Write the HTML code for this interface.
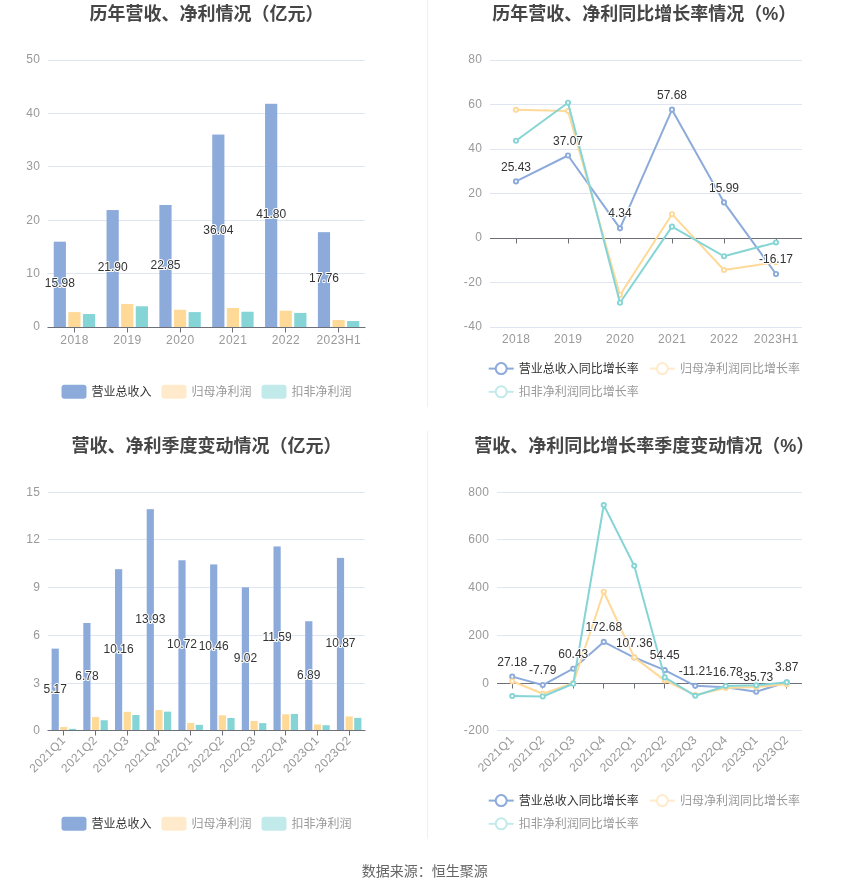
<!DOCTYPE html>
<html lang="zh"><head><meta charset="utf-8"><title>chart</title>
<style>
html,body{margin:0;padding:0;background:#fff;}
svg{display:block;font-family:"Liberation Sans","Noto Sans CJK SC",sans-serif;will-change:transform;}
.h{paint-order:stroke;stroke:#fff;stroke-width:2px;stroke-linejoin:round;}
.c{font-family:"Liberation Sans","Noto Sans CJK SC",sans-serif;}
</style></head><body>
<svg width="850" height="891" viewBox="0 0 850 891">
<rect width="850" height="891" fill="#fff"/>
<path d="M427.5 0V407" stroke="#F0F0F0" stroke-width="1"/>
<path d="M427.5 431V838.4" stroke="#F0F0F0" stroke-width="1"/>
<text class="c" x="89.5" y="19.84" font-size="18" font-weight="bold" fill="#464646">历年营收、净利情况（亿元）</text>
<text x="40.4" y="330.42" font-size="12" fill="#999" text-anchor="end" letter-spacing="0.4">0</text>
<path d="M48 273.5H365" stroke="#E0E6F1" stroke-width="1"/>
<text x="40.4" y="277.02" font-size="12" fill="#999" text-anchor="end" letter-spacing="0.4">10</text>
<path d="M48 220.5H365" stroke="#E0E6F1" stroke-width="1"/>
<text x="40.4" y="223.62" font-size="12" fill="#999" text-anchor="end" letter-spacing="0.4">20</text>
<path d="M48 166.5H365" stroke="#E0E6F1" stroke-width="1"/>
<text x="40.4" y="170.22" font-size="12" fill="#999" text-anchor="end" letter-spacing="0.4">30</text>
<path d="M48 113.5H365" stroke="#E0E6F1" stroke-width="1"/>
<text x="40.4" y="116.82" font-size="12" fill="#999" text-anchor="end" letter-spacing="0.4">40</text>
<path d="M48 60.5H365" stroke="#E0E6F1" stroke-width="1"/>
<text x="40.4" y="63.42" font-size="12" fill="#999" text-anchor="end" letter-spacing="0.4">50</text>
<rect x="53.72" y="241.67" width="12.2" height="85.33" fill="#8CABDB"/>
<rect x="68.32" y="312.1" width="12.2" height="14.9" fill="#FED998"/>
<rect x="82.92" y="314.02" width="12.2" height="12.98" fill="#86D5D6"/>
<rect x="106.55" y="210.05" width="12.2" height="116.95" fill="#8CABDB"/>
<rect x="121.15" y="303.93" width="12.2" height="23.07" fill="#FED998"/>
<rect x="135.75" y="306.28" width="12.2" height="20.72" fill="#86D5D6"/>
<rect x="159.38" y="204.98" width="12.2" height="122.02" fill="#8CABDB"/>
<rect x="173.98" y="309.75" width="12.2" height="17.25" fill="#FED998"/>
<rect x="188.58" y="312.1" width="12.2" height="14.9" fill="#86D5D6"/>
<rect x="212.22" y="134.55" width="12.2" height="192.45" fill="#8CABDB"/>
<rect x="226.82" y="307.99" width="12.2" height="19.01" fill="#FED998"/>
<rect x="241.42" y="311.73" width="12.2" height="15.27" fill="#86D5D6"/>
<rect x="265.05" y="103.79" width="12.2" height="223.21" fill="#8CABDB"/>
<rect x="279.65" y="310.71" width="12.2" height="16.29" fill="#FED998"/>
<rect x="294.25" y="312.9" width="12.2" height="14.1" fill="#86D5D6"/>
<rect x="317.88" y="232.16" width="12.2" height="94.84" fill="#8CABDB"/>
<rect x="332.48" y="320.06" width="12.2" height="6.94" fill="#FED998"/>
<rect x="347.08" y="321.02" width="12.2" height="5.98" fill="#86D5D6"/>
<path d="M47.5 327.5H365.5" stroke="#6E7079" stroke-width="1"/>
<path d="M74.5 327.5V332.5" stroke="#6E7079" stroke-width="1"/>
<path d="M127.5 327.5V332.5" stroke="#6E7079" stroke-width="1"/>
<path d="M180.5 327.5V332.5" stroke="#6E7079" stroke-width="1"/>
<path d="M232.5 327.5V332.5" stroke="#6E7079" stroke-width="1"/>
<path d="M285.5 327.5V332.5" stroke="#6E7079" stroke-width="1"/>
<path d="M338.5 327.5V332.5" stroke="#6E7079" stroke-width="1"/>
<text x="74.62" y="343.92" font-size="12" fill="#999" text-anchor="middle" letter-spacing="0.45">2018</text>
<text x="127.45" y="343.92" font-size="12" fill="#999" text-anchor="middle" letter-spacing="0.45">2019</text>
<text x="180.28" y="343.92" font-size="12" fill="#999" text-anchor="middle" letter-spacing="0.45">2020</text>
<text x="233.12" y="343.92" font-size="12" fill="#999" text-anchor="middle" letter-spacing="0.45">2021</text>
<text x="285.95" y="343.92" font-size="12" fill="#999" text-anchor="middle" letter-spacing="0.45">2022</text>
<text x="338.78" y="343.92" font-size="12" fill="#999" text-anchor="middle" letter-spacing="0.45">2023H1</text>
<text x="59.82" y="287.15" font-size="12" fill="#333" text-anchor="middle" class="h">15.98</text>
<text x="112.65" y="271.35" font-size="12" fill="#333" text-anchor="middle" class="h">21.90</text>
<text x="165.48" y="268.81" font-size="12" fill="#333" text-anchor="middle" class="h">22.85</text>
<text x="218.32" y="233.59" font-size="12" fill="#333" text-anchor="middle" class="h">36.04</text>
<text x="271.15" y="218.21" font-size="12" fill="#333" text-anchor="middle" class="h">41.80</text>
<text x="323.98" y="282.4" font-size="12" fill="#333" text-anchor="middle" class="h">17.76</text>
<rect x="61.5" y="384.7" width="25" height="14" rx="3" fill="#8CABDB"/>
<text class="c" x="91.5" y="395.76" font-size="12" fill="#333">营业总收入</text>
<rect x="161.5" y="384.7" width="25" height="14" rx="3" fill="#FFEBCB"/>
<text class="c" x="191.5" y="395.76" font-size="12" fill="#999">归母净利润</text>
<rect x="261.5" y="384.7" width="25" height="14" rx="3" fill="#C2EAEA"/>
<text class="c" x="291.5" y="395.76" font-size="12" fill="#999">扣非净利润</text>
<text class="c" x="492.35" y="19.84" font-size="18" font-weight="bold" fill="#464646">历年营收、净利同比增长率情况（%）</text>
<path d="M490 327.5H802" stroke="#E0E6F1" stroke-width="1"/>
<text x="482.4" y="330.42" font-size="12" fill="#999" text-anchor="end" letter-spacing="0.4">-40</text>
<path d="M490 282.5H802" stroke="#E0E6F1" stroke-width="1"/>
<text x="482.4" y="285.92" font-size="12" fill="#999" text-anchor="end" letter-spacing="0.4">-20</text>
<text x="482.4" y="241.42" font-size="12" fill="#999" text-anchor="end" letter-spacing="0.4">0</text>
<path d="M490 193.5H802" stroke="#E0E6F1" stroke-width="1"/>
<text x="482.4" y="196.92" font-size="12" fill="#999" text-anchor="end" letter-spacing="0.4">20</text>
<path d="M490 149.5H802" stroke="#E0E6F1" stroke-width="1"/>
<text x="482.4" y="152.42" font-size="12" fill="#999" text-anchor="end" letter-spacing="0.4">40</text>
<path d="M490 104.5H802" stroke="#E0E6F1" stroke-width="1"/>
<text x="482.4" y="107.92" font-size="12" fill="#999" text-anchor="end" letter-spacing="0.4">60</text>
<path d="M490 60.5H802" stroke="#E0E6F1" stroke-width="1"/>
<text x="482.4" y="63.42" font-size="12" fill="#999" text-anchor="end" letter-spacing="0.4">80</text>
<path d="M490 238.5H802" stroke="#6E7079" stroke-width="1"/>
<path d="M516.5 238.5V243.5" stroke="#6E7079" stroke-width="1"/>
<path d="M568.5 238.5V243.5" stroke="#6E7079" stroke-width="1"/>
<path d="M620.5 238.5V243.5" stroke="#6E7079" stroke-width="1"/>
<path d="M672.5 238.5V243.5" stroke="#6E7079" stroke-width="1"/>
<path d="M724.5 238.5V243.5" stroke="#6E7079" stroke-width="1"/>
<path d="M776.5 238.5V243.5" stroke="#6E7079" stroke-width="1"/>
<text x="516.2" y="343.42" font-size="12" fill="#999" text-anchor="middle" letter-spacing="0.45">2018</text>
<text x="568.2" y="343.42" font-size="12" fill="#999" text-anchor="middle" letter-spacing="0.45">2019</text>
<text x="620.2" y="343.42" font-size="12" fill="#999" text-anchor="middle" letter-spacing="0.45">2020</text>
<text x="672.2" y="343.42" font-size="12" fill="#999" text-anchor="middle" letter-spacing="0.45">2021</text>
<text x="724.2" y="343.42" font-size="12" fill="#999" text-anchor="middle" letter-spacing="0.45">2022</text>
<text x="776.2" y="343.42" font-size="12" fill="#999" text-anchor="middle" letter-spacing="0.45">2023H1</text>
<path d="M516 181.42L568 155.52L620 228.34L672 109.66L724 202.42L776 273.98" fill="none" stroke="#8CABDB" stroke-width="2" stroke-linejoin="bevel"/>
<circle cx="516" cy="181.42" r="2.1" fill="#fff" stroke="#8CABDB" stroke-width="1.9"/>
<circle cx="568" cy="155.52" r="2.1" fill="#fff" stroke="#8CABDB" stroke-width="1.9"/>
<circle cx="620" cy="228.34" r="2.1" fill="#fff" stroke="#8CABDB" stroke-width="1.9"/>
<circle cx="672" cy="109.66" r="2.1" fill="#fff" stroke="#8CABDB" stroke-width="1.9"/>
<circle cx="724" cy="202.42" r="2.1" fill="#fff" stroke="#8CABDB" stroke-width="1.9"/>
<circle cx="776" cy="273.98" r="2.1" fill="#fff" stroke="#8CABDB" stroke-width="1.9"/>
<path d="M516 109.84L568 110.95L620 294.96L672 214.19L724 270.04L776 262.25" fill="none" stroke="#FED998" stroke-width="2" stroke-linejoin="bevel"/>
<circle cx="516" cy="109.84" r="2.1" fill="#fff" stroke="#FED998" stroke-width="1.9"/>
<circle cx="568" cy="110.95" r="2.1" fill="#fff" stroke="#FED998" stroke-width="1.9"/>
<circle cx="620" cy="294.96" r="2.1" fill="#fff" stroke="#FED998" stroke-width="1.9"/>
<circle cx="672" cy="214.19" r="2.1" fill="#fff" stroke="#FED998" stroke-width="1.9"/>
<circle cx="724" cy="270.04" r="2.1" fill="#fff" stroke="#FED998" stroke-width="1.9"/>
<circle cx="776" cy="262.25" r="2.1" fill="#fff" stroke="#FED998" stroke-width="1.9"/>
<path d="M516 140.77L568 102.72L620 302.75L672 226.65L724 256.25L776 242.45" fill="none" stroke="#86D5D6" stroke-width="2" stroke-linejoin="bevel"/>
<circle cx="516" cy="140.77" r="2.1" fill="#fff" stroke="#86D5D6" stroke-width="1.9"/>
<circle cx="568" cy="102.72" r="2.1" fill="#fff" stroke="#86D5D6" stroke-width="1.9"/>
<circle cx="620" cy="302.75" r="2.1" fill="#fff" stroke="#86D5D6" stroke-width="1.9"/>
<circle cx="672" cy="226.65" r="2.1" fill="#fff" stroke="#86D5D6" stroke-width="1.9"/>
<circle cx="724" cy="256.25" r="2.1" fill="#fff" stroke="#86D5D6" stroke-width="1.9"/>
<circle cx="776" cy="242.45" r="2.1" fill="#fff" stroke="#86D5D6" stroke-width="1.9"/>
<text x="516" y="170.54" font-size="12" fill="#333" text-anchor="middle" class="h">25.43</text>
<text x="568" y="144.64" font-size="12" fill="#333" text-anchor="middle" class="h">37.07</text>
<text x="620" y="217.46" font-size="12" fill="#333" text-anchor="middle" class="h">4.34</text>
<text x="672" y="98.78" font-size="12" fill="#333" text-anchor="middle" class="h">57.68</text>
<text x="724" y="191.54" font-size="12" fill="#333" text-anchor="middle" class="h">15.99</text>
<text x="776" y="263.1" font-size="12" fill="#333" text-anchor="middle" class="h">-16.17</text>
<path d="M488.7 368.6H513.7" stroke="#8CABDB" stroke-width="2"/>
<circle cx="501.2" cy="368.6" r="5.5" fill="#fff" stroke="#8CABDB" stroke-width="2"/>
<text class="c" x="518.7" y="372.66" font-size="12" fill="#333">营业总收入同比增长率</text>
<path d="M649.9 368.6H674.9" stroke="#FFEBCB" stroke-width="2"/>
<circle cx="662.4" cy="368.6" r="5.5" fill="#fff" stroke="#FFEBCB" stroke-width="2"/>
<text class="c" x="679.9" y="372.66" font-size="12" fill="#999">归母净利润同比增长率</text>
<path d="M488.7 391.8H513.7" stroke="#C2EAEA" stroke-width="2"/>
<circle cx="501.2" cy="391.8" r="5.5" fill="#fff" stroke="#C2EAEA" stroke-width="2"/>
<text class="c" x="518.7" y="395.86" font-size="12" fill="#999">扣非净利润同比增长率</text>
<text class="c" x="71.5" y="451.84" font-size="18" font-weight="bold" fill="#464646">营收、净利季度变动情况（亿元）</text>
<text x="40.4" y="734.32" font-size="12" fill="#999" text-anchor="end" letter-spacing="0.4">0</text>
<path d="M48 683.5H365" stroke="#E0E6F1" stroke-width="1"/>
<text x="40.4" y="686.57" font-size="12" fill="#999" text-anchor="end" letter-spacing="0.4">3</text>
<path d="M48 635.5H365" stroke="#E0E6F1" stroke-width="1"/>
<text x="40.4" y="638.82" font-size="12" fill="#999" text-anchor="end" letter-spacing="0.4">6</text>
<path d="M48 587.5H365" stroke="#E0E6F1" stroke-width="1"/>
<text x="40.4" y="591.07" font-size="12" fill="#999" text-anchor="end" letter-spacing="0.4">9</text>
<path d="M48 539.5H365" stroke="#E0E6F1" stroke-width="1"/>
<text x="40.4" y="543.32" font-size="12" fill="#999" text-anchor="end" letter-spacing="0.4">12</text>
<path d="M48 492.5H365" stroke="#E0E6F1" stroke-width="1"/>
<text x="40.4" y="495.57" font-size="12" fill="#999" text-anchor="end" letter-spacing="0.4">15</text>
<rect x="51.6" y="648.61" width="7.2" height="82.29" fill="#8CABDB"/>
<rect x="60.25" y="727" width="7.2" height="3.9" fill="#FED998"/>
<rect x="68.9" y="728.83" width="7.2" height="2.07" fill="#86D5D6"/>
<rect x="83.3" y="622.99" width="7.2" height="107.92" fill="#8CABDB"/>
<rect x="91.95" y="717.05" width="7.2" height="13.85" fill="#FED998"/>
<rect x="100.6" y="720.24" width="7.2" height="10.66" fill="#86D5D6"/>
<rect x="115" y="569.19" width="7.2" height="161.71" fill="#8CABDB"/>
<rect x="123.65" y="711.8" width="7.2" height="19.1" fill="#FED998"/>
<rect x="132.3" y="714.98" width="7.2" height="15.92" fill="#86D5D6"/>
<rect x="146.7" y="509.18" width="7.2" height="221.72" fill="#8CABDB"/>
<rect x="155.35" y="710.05" width="7.2" height="20.85" fill="#FED998"/>
<rect x="164" y="711.64" width="7.2" height="19.26" fill="#86D5D6"/>
<rect x="178.4" y="560.27" width="7.2" height="170.63" fill="#8CABDB"/>
<rect x="187.05" y="722.94" width="7.2" height="7.96" fill="#FED998"/>
<rect x="195.7" y="724.85" width="7.2" height="6.05" fill="#86D5D6"/>
<rect x="210.1" y="564.41" width="7.2" height="166.49" fill="#8CABDB"/>
<rect x="218.75" y="715.3" width="7.2" height="15.6" fill="#FED998"/>
<rect x="227.4" y="718.01" width="7.2" height="12.89" fill="#86D5D6"/>
<rect x="241.8" y="587.33" width="7.2" height="143.57" fill="#8CABDB"/>
<rect x="250.45" y="720.95" width="7.2" height="9.95" fill="#FED998"/>
<rect x="259.1" y="723.1" width="7.2" height="7.8" fill="#86D5D6"/>
<rect x="273.5" y="546.43" width="7.2" height="184.47" fill="#8CABDB"/>
<rect x="282.15" y="714.35" width="7.2" height="16.55" fill="#FED998"/>
<rect x="290.8" y="713.95" width="7.2" height="16.95" fill="#86D5D6"/>
<rect x="305.2" y="621.23" width="7.2" height="109.67" fill="#8CABDB"/>
<rect x="313.85" y="724.45" width="7.2" height="6.45" fill="#FED998"/>
<rect x="322.5" y="725.25" width="7.2" height="5.65" fill="#86D5D6"/>
<rect x="336.9" y="557.89" width="7.2" height="173.01" fill="#8CABDB"/>
<rect x="345.55" y="716.48" width="7.2" height="14.42" fill="#FED998"/>
<rect x="354.2" y="717.85" width="7.2" height="13.05" fill="#86D5D6"/>
<path d="M47.5 730.5H365.5" stroke="#6E7079" stroke-width="1"/>
<path d="M63.5 730.5V735.5" stroke="#6E7079" stroke-width="1"/>
<path d="M95.5 730.5V735.5" stroke="#6E7079" stroke-width="1"/>
<path d="M127.5 730.5V735.5" stroke="#6E7079" stroke-width="1"/>
<path d="M158.5 730.5V735.5" stroke="#6E7079" stroke-width="1"/>
<path d="M190.5 730.5V735.5" stroke="#6E7079" stroke-width="1"/>
<path d="M222.5 730.5V735.5" stroke="#6E7079" stroke-width="1"/>
<path d="M254.5 730.5V735.5" stroke="#6E7079" stroke-width="1"/>
<path d="M285.5 730.5V735.5" stroke="#6E7079" stroke-width="1"/>
<path d="M317.5 730.5V735.5" stroke="#6E7079" stroke-width="1"/>
<path d="M349.5 730.5V735.5" stroke="#6E7079" stroke-width="1"/>
<text transform="translate(63.35 738.7) rotate(-45)" x="0.5" y="3.8" font-size="12" fill="#999" text-anchor="end" letter-spacing="0.45">2021Q1</text>
<text transform="translate(95.05 738.7) rotate(-45)" x="0.5" y="3.8" font-size="12" fill="#999" text-anchor="end" letter-spacing="0.45">2021Q2</text>
<text transform="translate(126.75 738.7) rotate(-45)" x="0.5" y="3.8" font-size="12" fill="#999" text-anchor="end" letter-spacing="0.45">2021Q3</text>
<text transform="translate(158.45 738.7) rotate(-45)" x="0.5" y="3.8" font-size="12" fill="#999" text-anchor="end" letter-spacing="0.45">2021Q4</text>
<text transform="translate(190.15 738.7) rotate(-45)" x="0.5" y="3.8" font-size="12" fill="#999" text-anchor="end" letter-spacing="0.45">2022Q1</text>
<text transform="translate(221.85 738.7) rotate(-45)" x="0.5" y="3.8" font-size="12" fill="#999" text-anchor="end" letter-spacing="0.45">2022Q2</text>
<text transform="translate(253.55 738.7) rotate(-45)" x="0.5" y="3.8" font-size="12" fill="#999" text-anchor="end" letter-spacing="0.45">2022Q3</text>
<text transform="translate(285.25 738.7) rotate(-45)" x="0.5" y="3.8" font-size="12" fill="#999" text-anchor="end" letter-spacing="0.45">2022Q4</text>
<text transform="translate(316.95 738.7) rotate(-45)" x="0.5" y="3.8" font-size="12" fill="#999" text-anchor="end" letter-spacing="0.45">2023Q1</text>
<text transform="translate(348.65 738.7) rotate(-45)" x="0.5" y="3.8" font-size="12" fill="#999" text-anchor="end" letter-spacing="0.45">2023Q2</text>
<text x="55.2" y="692.58" font-size="12" fill="#333" text-anchor="middle" class="h">5.17</text>
<text x="86.9" y="679.76" font-size="12" fill="#333" text-anchor="middle" class="h">6.78</text>
<text x="118.6" y="652.86" font-size="12" fill="#333" text-anchor="middle" class="h">10.16</text>
<text x="150.3" y="622.86" font-size="12" fill="#333" text-anchor="middle" class="h">13.93</text>
<text x="182" y="648.41" font-size="12" fill="#333" text-anchor="middle" class="h">10.72</text>
<text x="213.7" y="650.48" font-size="12" fill="#333" text-anchor="middle" class="h">10.46</text>
<text x="245.4" y="661.94" font-size="12" fill="#333" text-anchor="middle" class="h">9.02</text>
<text x="277.1" y="641.48" font-size="12" fill="#333" text-anchor="middle" class="h">11.59</text>
<text x="308.8" y="678.89" font-size="12" fill="#333" text-anchor="middle" class="h">6.89</text>
<text x="340.5" y="647.21" font-size="12" fill="#333" text-anchor="middle" class="h">10.87</text>
<rect x="61.5" y="816.7" width="25" height="14" rx="3" fill="#8CABDB"/>
<text class="c" x="91.5" y="827.76" font-size="12" fill="#333">营业总收入</text>
<rect x="161.5" y="816.7" width="25" height="14" rx="3" fill="#FFEBCB"/>
<text class="c" x="191.5" y="827.76" font-size="12" fill="#999">归母净利润</text>
<rect x="261.5" y="816.7" width="25" height="14" rx="3" fill="#C2EAEA"/>
<text class="c" x="291.5" y="827.76" font-size="12" fill="#999">扣非净利润</text>
<text class="c" x="474.35" y="451.84" font-size="18" font-weight="bold" fill="#464646">营收、净利同比增长率季度变动情况（%）</text>
<path d="M497 730.5H802" stroke="#E0E6F1" stroke-width="1"/>
<text x="489.4" y="734.32" font-size="12" fill="#999" text-anchor="end" letter-spacing="0.4">-200</text>
<text x="489.4" y="686.57" font-size="12" fill="#999" text-anchor="end" letter-spacing="0.4">0</text>
<path d="M497 635.5H802" stroke="#E0E6F1" stroke-width="1"/>
<text x="489.4" y="638.82" font-size="12" fill="#999" text-anchor="end" letter-spacing="0.4">200</text>
<path d="M497 587.5H802" stroke="#E0E6F1" stroke-width="1"/>
<text x="489.4" y="591.07" font-size="12" fill="#999" text-anchor="end" letter-spacing="0.4">400</text>
<path d="M497 539.5H802" stroke="#E0E6F1" stroke-width="1"/>
<text x="489.4" y="543.32" font-size="12" fill="#999" text-anchor="end" letter-spacing="0.4">600</text>
<path d="M497 492.5H802" stroke="#E0E6F1" stroke-width="1"/>
<text x="489.4" y="495.57" font-size="12" fill="#999" text-anchor="end" letter-spacing="0.4">800</text>
<path d="M497 683.5H802" stroke="#6E7079" stroke-width="1"/>
<path d="M512.5 683.5V688.5" stroke="#6E7079" stroke-width="1"/>
<path d="M542.5 683.5V688.5" stroke="#6E7079" stroke-width="1"/>
<path d="M573.5 683.5V688.5" stroke="#6E7079" stroke-width="1"/>
<path d="M603.5 683.5V688.5" stroke="#6E7079" stroke-width="1"/>
<path d="M634.5 683.5V688.5" stroke="#6E7079" stroke-width="1"/>
<path d="M664.5 683.5V688.5" stroke="#6E7079" stroke-width="1"/>
<path d="M695.5 683.5V688.5" stroke="#6E7079" stroke-width="1"/>
<path d="M725.5 683.5V688.5" stroke="#6E7079" stroke-width="1"/>
<path d="M756.5 683.5V688.5" stroke="#6E7079" stroke-width="1"/>
<path d="M786.5 683.5V688.5" stroke="#6E7079" stroke-width="1"/>
<text transform="translate(511.75 738) rotate(-45)" x="0.5" y="3.8" font-size="12" fill="#999" text-anchor="end" letter-spacing="0.45">2021Q1</text>
<text transform="translate(542.25 738) rotate(-45)" x="0.5" y="3.8" font-size="12" fill="#999" text-anchor="end" letter-spacing="0.45">2021Q2</text>
<text transform="translate(572.75 738) rotate(-45)" x="0.5" y="3.8" font-size="12" fill="#999" text-anchor="end" letter-spacing="0.45">2021Q3</text>
<text transform="translate(603.25 738) rotate(-45)" x="0.5" y="3.8" font-size="12" fill="#999" text-anchor="end" letter-spacing="0.45">2021Q4</text>
<text transform="translate(633.75 738) rotate(-45)" x="0.5" y="3.8" font-size="12" fill="#999" text-anchor="end" letter-spacing="0.45">2022Q1</text>
<text transform="translate(664.25 738) rotate(-45)" x="0.5" y="3.8" font-size="12" fill="#999" text-anchor="end" letter-spacing="0.45">2022Q2</text>
<text transform="translate(694.75 738) rotate(-45)" x="0.5" y="3.8" font-size="12" fill="#999" text-anchor="end" letter-spacing="0.45">2022Q3</text>
<text transform="translate(725.25 738) rotate(-45)" x="0.5" y="3.8" font-size="12" fill="#999" text-anchor="end" letter-spacing="0.45">2022Q4</text>
<text transform="translate(755.75 738) rotate(-45)" x="0.5" y="3.8" font-size="12" fill="#999" text-anchor="end" letter-spacing="0.45">2023Q1</text>
<text transform="translate(786.25 738) rotate(-45)" x="0.5" y="3.8" font-size="12" fill="#999" text-anchor="end" letter-spacing="0.45">2023Q2</text>
<path d="M512.25 676.66L542.75 685.01L573.25 668.72L603.75 641.92L634.25 657.52L664.75 670.15L695.25 685.83L725.75 687.16L756.25 691.68L786.75 682.23" fill="none" stroke="#8CABDB" stroke-width="2" stroke-linejoin="bevel"/>
<circle cx="512.25" cy="676.66" r="2.1" fill="#fff" stroke="#8CABDB" stroke-width="1.9"/>
<circle cx="542.75" cy="685.01" r="2.1" fill="#fff" stroke="#8CABDB" stroke-width="1.9"/>
<circle cx="573.25" cy="668.72" r="2.1" fill="#fff" stroke="#8CABDB" stroke-width="1.9"/>
<circle cx="603.75" cy="641.92" r="2.1" fill="#fff" stroke="#8CABDB" stroke-width="1.9"/>
<circle cx="634.25" cy="657.52" r="2.1" fill="#fff" stroke="#8CABDB" stroke-width="1.9"/>
<circle cx="664.75" cy="670.15" r="2.1" fill="#fff" stroke="#8CABDB" stroke-width="1.9"/>
<circle cx="695.25" cy="685.83" r="2.1" fill="#fff" stroke="#8CABDB" stroke-width="1.9"/>
<circle cx="725.75" cy="687.16" r="2.1" fill="#fff" stroke="#8CABDB" stroke-width="1.9"/>
<circle cx="756.25" cy="691.68" r="2.1" fill="#fff" stroke="#8CABDB" stroke-width="1.9"/>
<circle cx="786.75" cy="682.23" r="2.1" fill="#fff" stroke="#8CABDB" stroke-width="1.9"/>
<path d="M512.25 681.24L542.75 693.77L573.25 683.15L603.75 591.71L634.25 657.37L664.75 680.38L695.25 695.09L725.75 687.92L756.25 686.97L786.75 684.34" fill="none" stroke="#FED998" stroke-width="2" stroke-linejoin="bevel"/>
<circle cx="512.25" cy="681.24" r="2.1" fill="#fff" stroke="#FED998" stroke-width="1.9"/>
<circle cx="542.75" cy="693.77" r="2.1" fill="#fff" stroke="#FED998" stroke-width="1.9"/>
<circle cx="573.25" cy="683.15" r="2.1" fill="#fff" stroke="#FED998" stroke-width="1.9"/>
<circle cx="603.75" cy="591.71" r="2.1" fill="#fff" stroke="#FED998" stroke-width="1.9"/>
<circle cx="634.25" cy="657.37" r="2.1" fill="#fff" stroke="#FED998" stroke-width="1.9"/>
<circle cx="664.75" cy="680.38" r="2.1" fill="#fff" stroke="#FED998" stroke-width="1.9"/>
<circle cx="695.25" cy="695.09" r="2.1" fill="#fff" stroke="#FED998" stroke-width="1.9"/>
<circle cx="725.75" cy="687.92" r="2.1" fill="#fff" stroke="#FED998" stroke-width="1.9"/>
<circle cx="756.25" cy="686.97" r="2.1" fill="#fff" stroke="#FED998" stroke-width="1.9"/>
<circle cx="786.75" cy="684.34" r="2.1" fill="#fff" stroke="#FED998" stroke-width="1.9"/>
<path d="M512.25 696.04L542.75 696.52L573.25 683.75L603.75 505.04L634.25 565.78L664.75 677.42L695.25 695.8L725.75 686.01L756.25 685.3L786.75 682.31" fill="none" stroke="#86D5D6" stroke-width="2" stroke-linejoin="bevel"/>
<circle cx="512.25" cy="696.04" r="2.1" fill="#fff" stroke="#86D5D6" stroke-width="1.9"/>
<circle cx="542.75" cy="696.52" r="2.1" fill="#fff" stroke="#86D5D6" stroke-width="1.9"/>
<circle cx="573.25" cy="683.75" r="2.1" fill="#fff" stroke="#86D5D6" stroke-width="1.9"/>
<circle cx="603.75" cy="505.04" r="2.1" fill="#fff" stroke="#86D5D6" stroke-width="1.9"/>
<circle cx="634.25" cy="565.78" r="2.1" fill="#fff" stroke="#86D5D6" stroke-width="1.9"/>
<circle cx="664.75" cy="677.42" r="2.1" fill="#fff" stroke="#86D5D6" stroke-width="1.9"/>
<circle cx="695.25" cy="695.8" r="2.1" fill="#fff" stroke="#86D5D6" stroke-width="1.9"/>
<circle cx="725.75" cy="686.01" r="2.1" fill="#fff" stroke="#86D5D6" stroke-width="1.9"/>
<circle cx="756.25" cy="685.3" r="2.1" fill="#fff" stroke="#86D5D6" stroke-width="1.9"/>
<circle cx="786.75" cy="682.31" r="2.1" fill="#fff" stroke="#86D5D6" stroke-width="1.9"/>
<text x="512.25" y="665.78" font-size="12" fill="#333" text-anchor="middle" class="h">27.18</text>
<text x="542.75" y="674.13" font-size="12" fill="#333" text-anchor="middle" class="h">-7.79</text>
<text x="573.25" y="657.84" font-size="12" fill="#333" text-anchor="middle" class="h">60.43</text>
<text x="603.75" y="631.04" font-size="12" fill="#333" text-anchor="middle" class="h">172.68</text>
<text x="634.25" y="646.64" font-size="12" fill="#333" text-anchor="middle" class="h">107.36</text>
<text x="664.75" y="659.27" font-size="12" fill="#333" text-anchor="middle" class="h">54.45</text>
<text x="695.25" y="674.95" font-size="12" fill="#333" text-anchor="middle" class="h">-11.21</text>
<text x="725.75" y="676.28" font-size="12" fill="#333" text-anchor="middle" class="h">-16.78</text>
<text x="756.25" y="680.8" font-size="12" fill="#333" text-anchor="middle" class="h">-35.73</text>
<text x="786.75" y="671.35" font-size="12" fill="#333" text-anchor="middle" class="h">3.87</text>
<path d="M488.7 800.6H513.7" stroke="#8CABDB" stroke-width="2"/>
<circle cx="501.2" cy="800.6" r="5.5" fill="#fff" stroke="#8CABDB" stroke-width="2"/>
<text class="c" x="518.7" y="804.66" font-size="12" fill="#333">营业总收入同比增长率</text>
<path d="M649.9 800.6H674.9" stroke="#FFEBCB" stroke-width="2"/>
<circle cx="662.4" cy="800.6" r="5.5" fill="#fff" stroke="#FFEBCB" stroke-width="2"/>
<text class="c" x="679.9" y="804.66" font-size="12" fill="#999">归母净利润同比增长率</text>
<path d="M488.7 823.8H513.7" stroke="#C2EAEA" stroke-width="2"/>
<circle cx="501.2" cy="823.8" r="5.5" fill="#fff" stroke="#C2EAEA" stroke-width="2"/>
<text class="c" x="518.7" y="827.86" font-size="12" fill="#999">扣非净利润同比增长率</text>
<text class="c" x="361.7" y="875.92" font-size="14" fill="#666">数据来源：恒生聚源</text>
</svg>
</body></html>
